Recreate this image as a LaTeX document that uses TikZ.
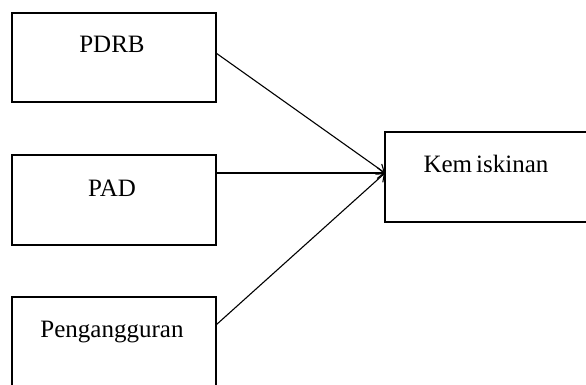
\documentclass[tikz,border=0pt]{standalone}
\usepackage{fontspec}
\setmainfont{Liberation Serif}
\usetikzlibrary{arrows.meta}
\begin{document}
\begin{tikzpicture}[x=1pt,y=1pt,
  box/.style={draw=black, line width=1.3pt, rectangle, inner sep=0pt, outer sep=0pt},
  lbl/.style={anchor=base, inner sep=0pt, font=\fontsize{25}{30}\selectfont},
  conn/.style={draw=black, line width=1.1pt, -{Straight Barb[length=7pt,width=11pt,line width=1.1pt]}}]
\useasboundingbox (0,0) rectangle (586,384);
\clip (0,0) rectangle (586,384);
\node[box, minimum width=204pt, minimum height=89pt] (pdrb) at (114,326.5) {};
\node[box, minimum width=204pt, minimum height=90pt] (pad) at (114,184) {};
\node[box, minimum width=204pt, minimum height=100pt] (peng) at (114,37) {};
\node[box, minimum width=220pt, minimum height=90pt] (kem) at (495,207) {};
\node[lbl] (tpdrb) at (112,332) {PDRB};
\node[lbl] (tpad) at (112,188) {PAD};
\node[lbl] (tpeng) at (112,47) {Pengangguran};
\node[lbl] (tkem) at (486,212) {Kem\kern4pt iskinan};
\coordinate (tip) at ([yshift=4pt]kem.west);
\draw[conn] ([yshift=4.5pt]pdrb.east) -- (tip);
\draw[conn] ([yshift=27pt]pad.east) -- (tip);
\draw[conn] ([yshift=22pt]peng.east) -- (tip);
\end{tikzpicture}
\end{document}
